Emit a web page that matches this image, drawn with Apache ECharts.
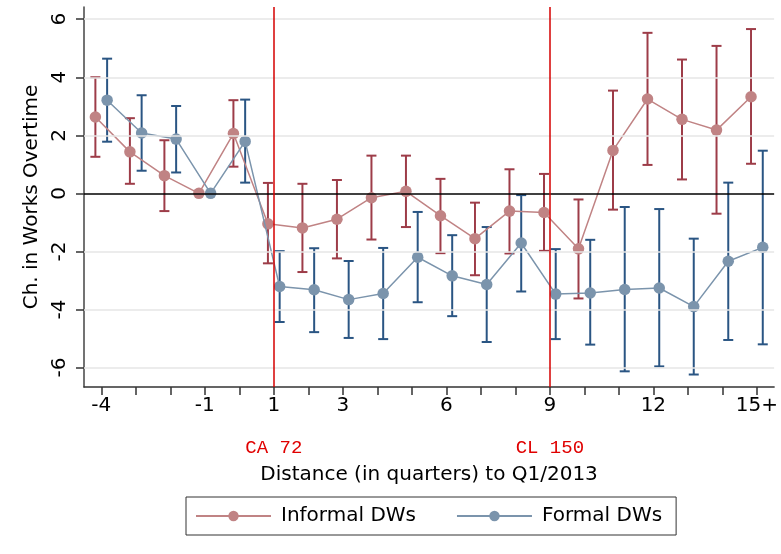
<!DOCTYPE html>
<html>
<head>
<meta charset="utf-8">
<script src="https://cdn.jsdelivr.net/npm/echarts@6/dist/echarts.min.js"></script>
<style>
html,body{margin:0;padding:0;background:#fff;}
#chart{width:781px;height:554px;}
</style>
</head>
<body>
<div id="chart"></div>
<script>
// ---- data ----
const quarters = [-4,-3,-2,-1,0,1,2,3,4,5,6,7,8,9,10,11,12,13,14,15];
const xTickLabels = [-4,-1,1,3,6,9,12,15];
const yTickLabels = [-6,-4,-2,0,2,4,6];

const informal   = [2.63,1.43,0.61,0,2.06,-1.05,-1.19,-0.89,-0.15,0.07,-0.77,-1.56,-0.61,-0.66,-1.91,1.48,3.25,2.55,2.18,3.33];
const informalLo = [1.26,0.33,-0.61,null,0.92,-2.41,-2.71,-2.24,-1.59,-1.16,-2.06,-2.82,-2.07,-1.98,-3.62,-0.56,0.98,0.48,-0.70,1.02];
const informalHi = [4.00,2.59,1.83,null,3.21,0.36,0.33,0.46,1.30,1.30,0.50,-0.32,0.83,0.67,-0.21,3.54,5.53,4.61,5.08,5.66];

const formal   = [3.21,2.08,1.87,0,1.79,-3.21,-3.32,-3.66,-3.45,-2.20,-2.84,-3.14,-1.71,-3.47,-3.43,-3.31,-3.26,-3.90,-2.34,-1.86];
const formalLo = [1.78,0.78,0.72,null,0.37,-4.43,-4.78,-4.98,-5.02,-3.75,-4.23,-5.12,-3.38,-5.02,-5.21,-6.13,-5.96,-6.24,-5.05,-5.20];
const formalHi = [4.64,3.38,3.01,null,3.23,-1.99,-1.89,-2.33,-1.88,-0.64,-1.44,-1.16,-0.06,-1.92,-1.60,-0.47,-0.54,-1.56,0.37,1.47];

const eventLines = [{x: 1, label: 'CA 72'}, {x: 9, label: 'CL 150'}];

// ---- styling ----
const FONT = 'DejaVu Sans';
const OFFSET = 0.17;
const C_INF = '#c08384', C_INF_CI = '#9d3c48';
const C_FOR = '#7b94ac', C_FOR_CI = '#2a5583';

function points(vals, off) {
  return quarters.map((q, i) => [q + off, vals[i]]);
}
function bars(lo, hi, off) {
  const out = [];
  quarters.forEach((q, i) => { if (lo[i] != null && hi[i] != null) out.push([q + off, lo[i], hi[i]]); });
  return out;
}
function errRender(color) {
  return function (params, api) {
    const x = api.value(0);
    const a = api.coord([x, api.value(1)]);
    const b = api.coord([x, api.value(2)]);
    const cap = 5;
    const st = { stroke: color, lineWidth: 2 };
    return {
      type: 'group',
      children: [
        { type: 'line', shape: { x1: a[0], y1: a[1], x2: b[0], y2: b[1] }, style: st },
        { type: 'line', shape: { x1: a[0] - cap, y1: a[1], x2: a[0] + cap, y2: a[1] }, style: st },
        { type: 'line', shape: { x1: b[0] - cap, y1: b[1], x2: b[0] + cap, y2: b[1] }, style: st }
      ]
    };
  };
}

const gridLines = yTickLabels.map(v => ({
  yAxis: v,
  lineStyle: v === 0 ? { color: '#000', width: 1.5, type: 'solid' } : { color: '#e6e6e6', width: 1.5, type: 'solid' }
}));

const chart = echarts.init(document.getElementById('chart'));
chart.setOption({
  animation: false,
  backgroundColor: '#fff',
  textStyle: { fontFamily: FONT },
  grid: { left: 84, right: 5, top: 7, bottom: 167, containLabel: false },
  xAxis: {
    type: 'value',
    min: -4.5, max: 15.5, interval: 0.5,
    name: 'Distance (in quarters) to Q1/2013',
    nameLocation: 'middle', nameGap: 78,
    nameTextStyle: { fontSize: 20, color: '#000', fontFamily: FONT },
    axisLine: { show: true, onZero: false, lineStyle: { color: '#333', width: 1.5 } },
    axisTick: { show: true, customValues: quarters, length: 8, lineStyle: { color: '#333', width: 1.5 } },
    axisLabel: {
      customValues: xTickLabels, fontSize: 20, color: '#000', margin: 9, fontFamily: FONT,
      formatter: v => (v === quarters[quarters.length - 1] ? v + '+' : String(v))
    },
    splitLine: { show: false }
  },
  yAxis: {
    type: 'value',
    min: -6.67, max: 6.42,
    name: 'Ch. in Works Overtime',
    nameLocation: 'middle', nameGap: 37, nameRotate: 90,
    nameTextStyle: { fontSize: 20, color: '#000', fontFamily: FONT },
    axisLine: { show: true, onZero: false, lineStyle: { color: '#444', width: 1.5 } },
    axisTick: { show: true, customValues: yTickLabels, length: 8, lineStyle: { color: '#333', width: 1.5 } },
    axisLabel: { customValues: yTickLabels, fontSize: 20, color: '#000', rotate: 90, margin: 14, fontFamily: FONT },
    splitLine: { show: false }
  },
  legend: {
    left: 186, top: 497,
    data: ['Informal DWs', 'Formal DWs'],
    itemWidth: 75, itemHeight: 13, itemGap: 40,
    padding: [9, 14, 9, 9],
    borderColor: '#333', borderWidth: 1,
    textStyle: { fontSize: 20, color: '#000', fontFamily: FONT, padding: [0, 0, 0, 5] }
  },
  series: [
    {
      name: 'grid', type: 'line', data: [], z: 0, silent: true,
      markLine: { silent: true, symbol: ['none', 'none'], label: { show: false }, data: gridLines, animation: false }
    },
    {
      name: 'events', type: 'line', data: [], z: 1, silent: true,
      markLine: {
        silent: true, symbol: ['none', 'none'], animation: false,
        lineStyle: { color: '#d40000', width: 1.5, type: 'solid' },
        label: {
          show: true, position: 'start', distance: 51,
          fontFamily: 'Liberation Mono', fontSize: 19, color: '#e00000'
        },
        data: eventLines.map(e => ({ xAxis: e.x, label: { formatter: e.label } }))
      }
    },
    {
      name: 'Informal CI', type: 'custom', z: 2, renderItem: errRender(C_INF_CI),
      data: bars(informalLo, informalHi, -OFFSET)
    },
    {
      name: 'Formal CI', type: 'custom', z: 2, renderItem: errRender(C_FOR_CI),
      data: bars(formalLo, formalHi, OFFSET)
    },
    {
      name: 'Informal DWs', type: 'line', z: 3,
      data: points(informal, -OFFSET),
      symbol: 'circle', symbolSize: 11.5, showSymbol: true,
      itemStyle: { color: C_INF },
      lineStyle: { color: C_INF, width: 1.5 }
    },
    {
      name: 'Formal DWs', type: 'line', z: 4,
      data: points(formal, OFFSET),
      symbol: 'circle', symbolSize: 11.5, showSymbol: true,
      itemStyle: { color: C_FOR },
      lineStyle: { color: C_FOR, width: 1.5 }
    }
  ]
});
</script>
</body>
</html>
